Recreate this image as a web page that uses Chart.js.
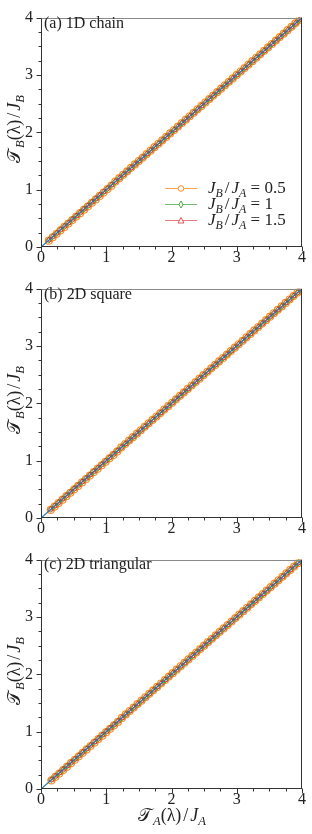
<!DOCTYPE html>
<html>
<head>
<meta charset="utf-8">
<script src="https://cdn.jsdelivr.net/npm/chart.js@4/dist/chart.umd.min.js"></script>
<style>
  body { margin: 0; background: #fff; }
  #page { position: relative; width: 312px; height: 834px; overflow: hidden; }
  canvas { position: absolute; left: 0; }
  .txt { position: absolute; font-family: 'Liberation Serif', serif; font-size: 16px; color: #222; white-space: nowrap; line-height: 18px; }
  .leg { position: absolute; font-family: 'Liberation Serif', serif; font-size: 17px; color: #222; white-space: nowrap; line-height: 16px; }
  .ttl { position: absolute; font-family: 'Liberation Serif', serif; font-size: 18px; color: #222; white-space: nowrap; line-height: 20px; transform: translate(-50%, -50%); }
  .rot { transform: translate(-50%, -50%) rotate(-90deg); }
  .cal { font-family: 'DejaVu Serif', 'DejaVu Sans', serif; font-style: normal; margin-right: 1px; }
  sub { font-size: 70%; vertical-align: -0.3em; line-height: 0; }
  i { font-style: italic; }
  .sl { margin: 0 2px; }
</style>
</head>
<body>
<div id="page">
  <canvas id="chartA" width="312" height="272" style="top:0px"></canvas>
  <canvas id="chartB" width="312" height="272" style="top:271px"></canvas>
  <canvas id="chartC" width="312" height="272" style="top:542px"></canvas>

  <div class="txt" style="left:44px; top:14px">(a) 1D chain</div>
  <div class="txt" style="left:44px; top:285px">(b) 2D square</div>
  <div class="txt" style="left:44px; top:555px">(c) 2D triangular</div>

  <div class="leg" style="left:208px; top:180px"><i>J</i><sub><i>B</i></sub><span class="sl">/</span><i>J</i><sub><i>A</i></sub> = 0.5</div>
  <div class="leg" style="left:208px; top:196px"><i>J</i><sub><i>B</i></sub><span class="sl">/</span><i>J</i><sub><i>A</i></sub> = 1</div>
  <div class="leg" style="left:208px; top:212px"><i>J</i><sub><i>B</i></sub><span class="sl">/</span><i>J</i><sub><i>A</i></sub> = 1.5</div>

  <div class="ttl rot" style="left:14px; top:129px"><span class="cal">𝒯</span><sub><i>B</i></sub>(λ)<span class="sl">/</span><i>J</i><sub><i>B</i></sub></div>
  <div class="ttl rot" style="left:14px; top:400px"><span class="cal">𝒯</span><sub><i>B</i></sub>(λ)<span class="sl">/</span><i>J</i><sub><i>B</i></sub></div>
  <div class="ttl rot" style="left:14px; top:671px"><span class="cal">𝒯</span><sub><i>B</i></sub>(λ)<span class="sl">/</span><i>J</i><sub><i>B</i></sub></div>
  <div class="ttl" style="left:172px; top:815px"><span class="cal">𝒯</span><sub><i>A</i></sub>(λ)<span class="sl">/</span><i>J</i><sub><i>A</i></sub></div>
</div>

<script>
'use strict';
// ********************** DATA *********************

// axis ticks
let majorTicks = [0, 1, 2, 3, 4];
let minorTicks = [0.25, 0.5, 0.75, 1.25, 1.5, 1.75, 2.25, 2.5, 2.75, 3.25, 3.5, 3.75];

// reference line T_B/J_B = T_A/J_A
let diagX = [0, 4];
let diagY = [0, 4];

// (a) 1D chain : T_A/J_A and T_B/J_B for J_B/J_A = 0.5, 1, 1.5
let chainTA = [0.12,0.18,0.24,0.30,0.36,0.42,0.48,0.54,0.60,0.66,0.72,0.78,0.84,0.90,0.96,1.02,1.08,1.14,1.20,1.26,1.32,1.38,1.44,1.50,1.56,1.62,1.68,1.74,1.80,1.86,1.92,1.98,2.04,2.10,2.16,2.22,2.28,2.34,2.40,2.46,2.52,2.58,2.64,2.70,2.76,2.82,2.88,2.94,3.00,3.06,3.12,3.18,3.24,3.30,3.36,3.42,3.48,3.54,3.60,3.66,3.72,3.78,3.84,3.90,3.96,4.00];
let chainTB05 = [0.11,0.17,0.23,0.29,0.35,0.41,0.47,0.53,0.59,0.65,0.71,0.77,0.83,0.89,0.95,1.01,1.07,1.14,1.20,1.26,1.32,1.38,1.44,1.50,1.56,1.62,1.68,1.74,1.80,1.86,1.92,1.98,2.04,2.10,2.16,2.22,2.28,2.34,2.40,2.46,2.52,2.58,2.64,2.70,2.76,2.82,2.88,2.94,3.00,3.06,3.12,3.18,3.24,3.30,3.36,3.42,3.48,3.54,3.60,3.66,3.72,3.78,3.84,3.90,3.96,4.00];
let chainTB1 = [0.12,0.18,0.24,0.30,0.36,0.42,0.48,0.54,0.60,0.66,0.72,0.78,0.84,0.90,0.96,1.02,1.08,1.14,1.20,1.26,1.32,1.38,1.44,1.50,1.56,1.62,1.68,1.74,1.80,1.86,1.92,1.98,2.04,2.10,2.16,2.22,2.28,2.34,2.40,2.46,2.52,2.58,2.64,2.70,2.76,2.82,2.88,2.94,3.00,3.06,3.12,3.18,3.24,3.30,3.36,3.42,3.48,3.54,3.60,3.66,3.72,3.78,3.84,3.90,3.96,4.00];
let chainTB15 = [0.12,0.18,0.24,0.30,0.36,0.42,0.48,0.54,0.60,0.66,0.72,0.78,0.84,0.90,0.96,1.02,1.08,1.14,1.20,1.26,1.32,1.38,1.44,1.50,1.56,1.62,1.68,1.74,1.80,1.86,1.92,1.98,2.04,2.10,2.16,2.22,2.28,2.34,2.40,2.46,2.52,2.58,2.64,2.70,2.76,2.82,2.88,2.94,3.00,3.06,3.12,3.18,3.24,3.30,3.36,3.42,3.48,3.54,3.60,3.66,3.72,3.78,3.84,3.90,3.96,4.00];

// (b) 2D square
let squareTA = [0.15,0.21,0.27,0.33,0.39,0.45,0.51,0.57,0.63,0.69,0.75,0.81,0.87,0.93,0.99,1.05,1.11,1.17,1.23,1.29,1.35,1.41,1.47,1.53,1.59,1.65,1.71,1.77,1.83,1.89,1.95,2.01,2.07,2.13,2.19,2.25,2.31,2.37,2.43,2.49,2.55,2.61,2.67,2.73,2.79,2.85,2.91,2.97,3.03,3.09,3.15,3.21,3.27,3.33,3.39,3.45,3.51,3.57,3.63,3.69,3.75,3.81,3.87,3.93,3.99];
let squareTB05 = [0.14,0.20,0.26,0.32,0.38,0.44,0.50,0.56,0.62,0.68,0.74,0.80,0.86,0.92,0.98,1.04,1.10,1.16,1.23,1.29,1.35,1.41,1.47,1.53,1.59,1.65,1.71,1.77,1.83,1.89,1.95,2.01,2.07,2.13,2.19,2.25,2.31,2.37,2.43,2.49,2.55,2.61,2.67,2.73,2.79,2.85,2.91,2.97,3.03,3.09,3.15,3.21,3.27,3.33,3.39,3.45,3.51,3.57,3.63,3.69,3.75,3.81,3.87,3.93,3.99];
let squareTB1 = [0.15,0.21,0.27,0.33,0.39,0.45,0.51,0.57,0.63,0.69,0.75,0.81,0.87,0.93,0.99,1.05,1.11,1.17,1.23,1.29,1.35,1.41,1.47,1.53,1.59,1.65,1.71,1.77,1.83,1.89,1.95,2.01,2.07,2.13,2.19,2.25,2.31,2.37,2.43,2.49,2.55,2.61,2.67,2.73,2.79,2.85,2.91,2.97,3.03,3.09,3.15,3.21,3.27,3.33,3.39,3.45,3.51,3.57,3.63,3.69,3.75,3.81,3.87,3.93,3.99];
let squareTB15 = [0.15,0.21,0.27,0.33,0.39,0.45,0.51,0.57,0.63,0.69,0.75,0.81,0.87,0.93,0.99,1.05,1.11,1.17,1.23,1.29,1.35,1.41,1.47,1.53,1.59,1.65,1.71,1.77,1.83,1.89,1.95,2.01,2.07,2.13,2.19,2.25,2.31,2.37,2.43,2.49,2.55,2.61,2.67,2.73,2.79,2.85,2.91,2.97,3.03,3.09,3.15,3.21,3.27,3.33,3.39,3.45,3.51,3.57,3.63,3.69,3.75,3.81,3.87,3.93,3.99];

// (c) 2D triangular
let triTA = [0.16,0.22,0.28,0.34,0.40,0.46,0.52,0.58,0.64,0.70,0.76,0.82,0.88,0.94,1.00,1.06,1.12,1.18,1.24,1.30,1.36,1.42,1.48,1.54,1.60,1.66,1.72,1.78,1.84,1.90,1.96,2.02,2.08,2.14,2.20,2.26,2.32,2.38,2.44,2.50,2.56,2.62,2.68,2.74,2.80,2.86,2.92,2.98,3.04,3.10,3.16,3.22,3.28,3.34,3.40,3.46,3.52,3.58,3.64,3.70,3.76,3.82,3.88,3.94,4.00];
let triTB05 = [0.15,0.21,0.27,0.33,0.39,0.45,0.51,0.57,0.63,0.69,0.75,0.81,0.87,0.93,0.99,1.05,1.11,1.17,1.24,1.30,1.36,1.42,1.48,1.54,1.60,1.66,1.72,1.78,1.84,1.90,1.96,2.02,2.08,2.14,2.20,2.26,2.32,2.38,2.44,2.50,2.56,2.62,2.68,2.74,2.80,2.86,2.92,2.98,3.04,3.10,3.16,3.22,3.28,3.34,3.40,3.46,3.52,3.58,3.64,3.70,3.76,3.82,3.88,3.94,4.00];
let triTB1 = [0.16,0.22,0.28,0.34,0.40,0.46,0.52,0.58,0.64,0.70,0.76,0.82,0.88,0.94,1.00,1.06,1.12,1.18,1.24,1.30,1.36,1.42,1.48,1.54,1.60,1.66,1.72,1.78,1.84,1.90,1.96,2.02,2.08,2.14,2.20,2.26,2.32,2.38,2.44,2.50,2.56,2.62,2.68,2.74,2.80,2.86,2.92,2.98,3.04,3.10,3.16,3.22,3.28,3.34,3.40,3.46,3.52,3.58,3.64,3.70,3.76,3.82,3.88,3.94,4.00];
let triTB15 = [0.16,0.22,0.28,0.34,0.40,0.46,0.52,0.58,0.64,0.70,0.76,0.82,0.88,0.94,1.00,1.06,1.12,1.18,1.24,1.30,1.36,1.42,1.48,1.54,1.60,1.66,1.72,1.78,1.84,1.90,1.96,2.02,2.08,2.14,2.20,2.26,2.32,2.38,2.44,2.50,2.56,2.62,2.68,2.74,2.80,2.86,2.92,2.98,3.04,3.10,3.16,3.22,3.28,3.34,3.40,3.46,3.52,3.58,3.64,3.70,3.76,3.82,3.88,3.94,4.00];

// ********************** COLOURS *********************
let orange = 'rgba(255,127,14,0.9)';
let green = 'rgba(44,160,44,0.85)';
let red = 'rgba(214,39,40,0.75)';
let blue = '#1f77b4';

// ********************* HELPER FUNCTIONS ****************

function pairUp(xs, ys) {
  return xs.map((x, i) => ({ x: x, y: ys[i] }));
}

function strokeLine(ctx, x1, y1, x2, y2) {
  ctx.beginPath();
  ctx.moveTo(x1, y1);
  ctx.lineTo(x2, y2);
  ctx.stroke();
}

// box round the plot + outward major/minor ticks
const frameTicks = {
  id: 'frameTicks',
  afterDraw(chart) {
    let ctx = chart.ctx;
    let a = chart.chartArea;
    let sx = chart.scales.x;
    let sy = chart.scales.y;
    let L = Math.round(a.left) + 0.5;
    let R = Math.round(a.right) - 0.5;
    let T = Math.round(a.top) + 0.5;
    let B = Math.round(a.bottom) - 0.5;
    ctx.save();
    ctx.lineWidth = 1;
    ctx.strokeStyle = '#8a8a8a';
    strokeLine(ctx, L, T, R, T);
    ctx.strokeStyle = '#333';
    strokeLine(ctx, L, T, L, B);
    strokeLine(ctx, L, B, R + 0.5, B);
    strokeLine(ctx, R, T - 0.5, R, B);
    let drawTicks = (vals, len) => {
      vals.forEach(v => {
        let px = Math.round(sx.getPixelForValue(v)) + 0.5;
        strokeLine(ctx, px, B, px, B + len);
        let py = Math.round(sy.getPixelForValue(v)) + 0.5;
        strokeLine(ctx, L - len, py, L, py);
      });
    };
    drawTicks(majorTicks, 5);
    drawTicks(minorTicks, 3);
    ctx.restore();
  }
};

// legend samples (line + open marker) inside panel (a)
const legendMarks = {
  id: 'legendMarks',
  afterDraw(chart) {
    let ctx = chart.ctx;
    let rows = [
      { color: orange, shape: 'circle', y: 188 },
      { color: green, shape: 'diamond', y: 204 },
      { color: red, shape: 'triangle', y: 220 }
    ];
    ctx.save();
    rows.forEach(r => {
      ctx.strokeStyle = r.color;
      ctx.globalAlpha = 0.8;
      ctx.lineWidth = 1;
      strokeLine(ctx, 165, r.y + 0.5, 197, r.y + 0.5);
      ctx.globalAlpha = 1;
      ctx.fillStyle = '#fff';
      ctx.beginPath();
      if (r.shape === 'circle') {
        ctx.arc(181, r.y + 0.5, 2.8, 0, Math.PI * 2);
      } else if (r.shape === 'diamond') {
        ctx.moveTo(181, r.y - 3);
        ctx.lineTo(183, r.y + 0.5);
        ctx.lineTo(181, r.y + 4);
        ctx.lineTo(179, r.y + 0.5);
        ctx.closePath();
      } else {
        ctx.moveTo(181, r.y - 2.5);
        ctx.lineTo(184, r.y + 3);
        ctx.lineTo(178, r.y + 3);
        ctx.closePath();
      }
      ctx.fill();
      ctx.stroke();
    });
    ctx.restore();
  }
};

// ********************* THIS FUNCTION RENDERS ONE PANEL ************************
function renderPanel(canvasId, ta, tb05, tb1, tb15, extraPlugins) {
  let canvasElem = document.getElementById(canvasId);
  let tickFont = { family: "'Liberation Serif', serif", size: 16 };

  let chartObj = {
    type: 'scatter',
    data: {
      datasets: [{
        data: pairUp(diagX, diagY),
        showLine: true,
        borderColor: blue,
        borderWidth: 1.2,
        pointRadius: 0
      },
      {
        data: pairUp(ta, tb15),
        showLine: true,
        borderColor: red,
        borderWidth: 0.8,
        pointStyle: 'triangle',
        pointRadius: 3,
        pointBorderWidth: 1,
        pointBorderColor: red,
        pointBackgroundColor: 'rgba(0,0,0,0)'
      },
      {
        data: pairUp(ta, tb1),
        showLine: true,
        borderColor: green,
        borderWidth: 0.8,
        pointStyle: 'rectRot',
        pointRadius: 3,
        pointBorderWidth: 1,
        pointBorderColor: green,
        pointBackgroundColor: 'rgba(0,0,0,0)'
      },
      {
        data: pairUp(ta, tb05),
        showLine: true,
        borderColor: orange,
        borderWidth: 0.8,
        pointStyle: 'circle',
        pointRadius: 3.5,
        pointBorderWidth: 1.2,
        pointBorderColor: orange,
        pointBackgroundColor: 'rgba(0,0,0,0)'
      }]
    },
    options: {
      responsive: false,
      devicePixelRatio: 1,
      animation: false,
      events: [],
      layout: { padding: { top: 11, right: 10, left: 0, bottom: 0 } },
      plugins: { legend: { display: false }, tooltip: { enabled: false } },
      scales: {
        x: {
          type: 'linear',
          min: 0,
          max: 4,
          grid: { display: false, drawTicks: false },
          border: { display: false },
          ticks: { stepSize: 1, autoSkip: false, maxRotation: 0, padding: 1, color: '#222', font: tickFont },
          afterFit(scale) { scale.height = 25; }
        },
        y: {
          type: 'linear',
          min: 0,
          max: 4,
          grid: { display: false, drawTicks: false },
          border: { display: false },
          ticks: { stepSize: 1, autoSkip: false, padding: 8, color: '#222', font: tickFont },
          afterFit(scale) { scale.width = 41; }
        }
      }
    },
    plugins: [frameTicks].concat(extraPlugins)
  };
  new Chart(canvasElem, chartObj);
}

// ******************** EXECUTABLE CODE **************************
renderPanel('chartA', chainTA, chainTB05, chainTB1, chainTB15, [legendMarks]);
renderPanel('chartB', squareTA, squareTB05, squareTB1, squareTB15, []);
renderPanel('chartC', triTA, triTB05, triTB1, triTB15, []);
</script>
</body>
</html>
